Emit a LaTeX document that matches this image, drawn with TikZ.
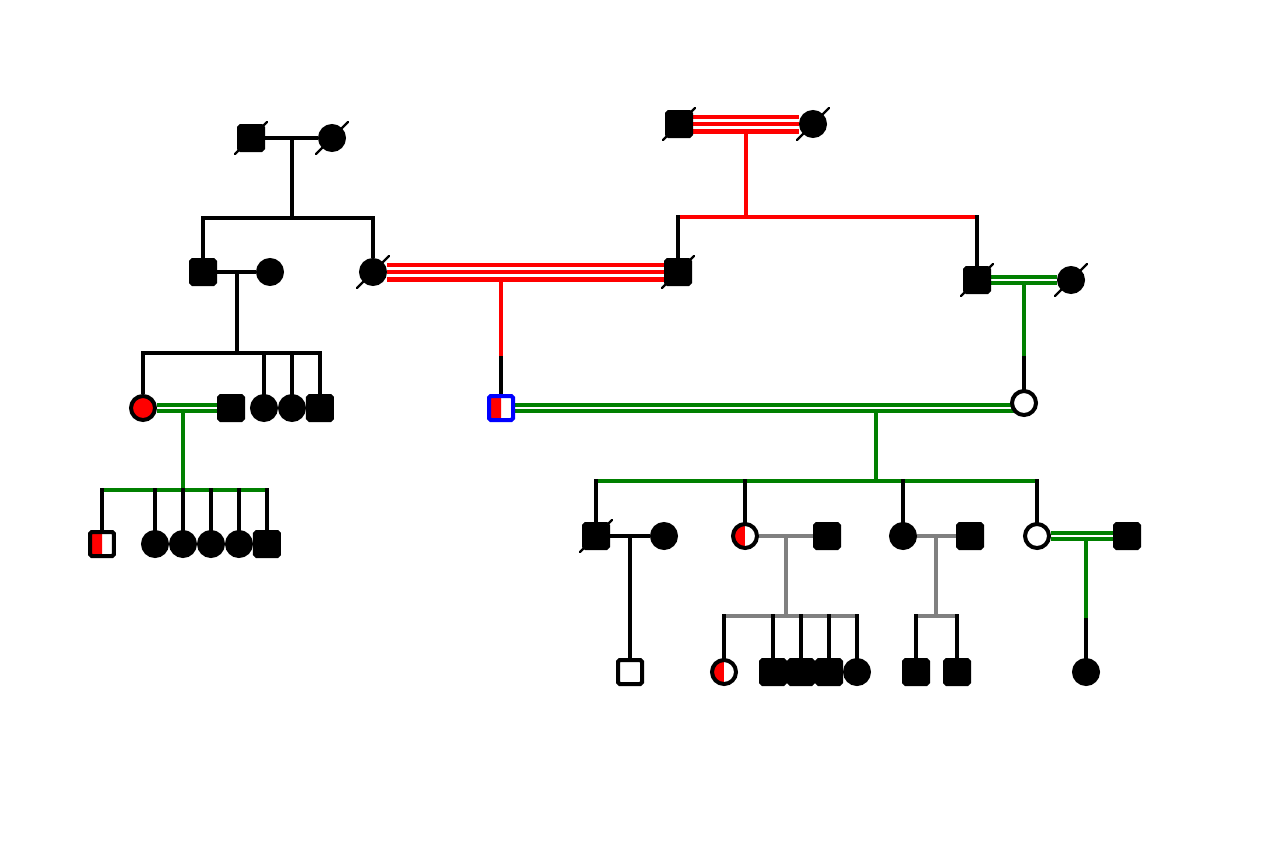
\documentclass[tikz,border=0pt]{standalone}
\usepackage{tikz}
\usetikzlibrary{positioning,backgrounds}
\definecolor{pgreen}{RGB}{0,128,0}
\definecolor{pgray}{RGB}{128,128,128}
\begin{document}
\begin{tikzpicture}[
    x=0.02cm, y=-0.02cm, line width=0.085cm,
    ind/.style={draw, line width=0.08cm, minimum size=0.48cm, inner sep=0pt},
    ma/.style={ind, rectangle, rounded corners=1pt},
    fe/.style={ind, circle},
    aff/.style={fill=black},
    half/.style={fill=white, path picture={\fill[red] (path picture bounding box.south west) rectangle (path picture bounding box.north);}},
    dead/.style={line width=0.045cm, line cap=round},
    dr/.style={line cap=rect},
    dbl/.style={draw=pgreen, double=white, line width=0.07cm, double distance=0.045cm},
    tri/.style={draw=red, double=white, line width=0.085cm, double distance=0.21cm},
    trm/.style={draw=red, line width=0.085cm},
    rl/.style={draw=red}, gl/.style={draw=pgreen}, gr/.style={draw=pgray},
]
    \useasboundingbox (0,0) rectangle (1280,853);
    \node[ma, aff] (I1) at (251,138) {};
    \node[fe, aff] (I2) at (332,138) {};
    \node[ma, aff] (I3) at (679,124) {};
    \node[fe, aff] (I4) at (813,124) {};
    \node[ma, aff] (II1) at (203,272) {};
    \node[fe, aff] (II2) at (270,272) {};
    \node[fe, aff] (II3) at (373,272) {};
    \node[ma, aff] (II4) at (678,272) {};
    \node[ma, aff] (II5) at (977,280) {};
    \node[fe, aff] (II6) at (1071,280) {};
    \node[fe, fill=red] (III1) at (143,408) {};
    \node[ma, aff] (III2) at (231,408) {};
    \node[fe, aff] (III3) at (264,408) {};
    \node[fe, aff, right=0pt of III3] (III4) {};
    \node[ma, aff, right=0pt of III4] (III5) {};
    \node[ma, half, draw=blue] (III6) at (501,408) {};
    \node[fe, fill=white] (III7) at (1024,403) {};
    \node[ma, half] (IV1) at (102,544) {};
    \node[fe, aff] (IV2) at (155,544) {};
    \node[fe, aff, right=0pt of IV2] (IV3) {};
    \node[fe, aff, right=0pt of IV3] (IV4) {};
    \node[fe, aff, right=0pt of IV4] (IV5) {};
    \node[ma, aff, right=0pt of IV5] (IV6) {};
    \node[ma, aff] (IV7) at (596,536) {};
    \node[fe, aff] (IV8) at (664,536) {};
    \node[fe, half] (IV9) at (745,536) {};
    \node[ma, aff] (IV10) at (827,536) {};
    \node[fe, aff] (IV11) at (903,536) {};
    \node[ma, aff] (IV12) at (970,536) {};
    \node[fe, fill=white] (IV13) at (1037,536) {};
    \node[ma, aff] (IV14) at (1127,536) {};
    \node[ma, fill=white] (V1) at (630,672) {};
    \node[fe, half] (V2) at (724,672) {};
    \node[ma, aff] (V3) at (773,672) {};
    \node[ma, aff, right=0pt of V3] (V4) {};
    \node[ma, aff, right=0pt of V4] (V5) {};
    \node[fe, aff, right=0pt of V5] (V6) {};
    \node[ma, aff] (V7) at (916,672) {};
    \node[ma, aff] (V8) at (957,672) {};
    \node[fe, aff] (V9) at (1086,672) {};
    \foreach \n in {I1,I2,I3,I4,II3,II4,II5,II6,IV7}
        \draw[dead] ([shift={(-16,16)}]\n.center) -- ([shift={(16,-16)}]\n.center);

    \begin{scope}[on background layer]
    \begin{scope}[line width=0.085cm]
    \coordinate (m1) at (292,138); \coordinate (s1) at (292,218);
    \coordinate (m2) at (746,134); \coordinate (s2) at (746,217);
    \coordinate (m3) at (237,272); \coordinate (s3) at (237,353);
    \coordinate (m4) at (501,282); \coordinate (k4) at (501,358);
    \coordinate (m5) at (1024,284); \coordinate (k5) at (1024,358);
    \coordinate (m6) at (183,412); \coordinate (s6) at (183,490);
    \coordinate (m7) at (876,412); \coordinate (s7) at (876,481);
    \coordinate (m8) at (630,536);
    \coordinate (m9) at (786,536); \coordinate (s9) at (786,616);
    \coordinate (m10) at (936,536); \coordinate (s10) at (936,616);
    \coordinate (m11) at (1086,540); \coordinate (k11) at (1086,620);

    \draw (I1) -- (I2); \draw (m1) -- (s1);
    \draw (II1) |- (s1) -| (II3);
    \draw[tri] (I3) -- (I4); \draw[trm] (I3) -- (I4);
    \draw[rl] (m2) -- (s2); \draw[rl] (II4 |- s2) -- (II5 |- s2);
    \draw[dr] (II4 |- s2) -- (II4); \draw[dr] (II5 |- s2) -- (II5);

    \draw (II1) -- (II2); \draw (m3) -- (s3);
    \draw (III1) |- (s3) -| (III5);
    \foreach \n in {III3,III4} \draw[dr] (\n |- s3) -- (\n);
    \draw[tri] (II3) -- (II4); \draw[trm] (II3) -- (II4);
    \draw[rl] (m4) -- (k4); \draw[dr] (k4) -- (III6);
    \draw[dbl] (II5) -- (II6);
    \draw[gl] (m5) -- (k5); \draw[dr] (k5) -- (III7);

    \draw[dbl] (III1) -- (III2);
    \draw[gl] (m6) -- (s6); \draw[gl] (IV1 |- s6) -- (IV6 |- s6);
    \foreach \i in {1,...,6} \draw[dr] (IV\i |- s6) -- (IV\i);
    \draw[dbl] (III6.center) -- (III6.center -| III7.center);
    \draw[gl] (m7) -- (s7); \draw[gl] (IV7 |- s7) -- (IV13 |- s7);
    \foreach \i in {7,9,11,13} \draw[dr] (IV\i |- s7) -- (IV\i);

    \draw (IV7) -- (IV8); \draw (m8) -- (V1);
    \draw[gr] (IV9) -- (IV10); \draw[gr] (m9) -- (s9);
    \draw[gr] (V2 |- s9) -- (V6 |- s9);
    \foreach \i in {2,...,6} \draw[dr] (V\i |- s9) -- (V\i);
    \draw[gr] (IV11) -- (IV12); \draw[gr] (m10) -- (s10);
    \draw[gr] (V7 |- s10) -- (V8 |- s10);
    \foreach \i in {7,8} \draw[dr] (V\i |- s10) -- (V\i);
    \draw[dbl] (IV13) -- (IV14);
    \draw[gl] (m11) -- (k11); \draw[dr] (k11) -- (V9);
    \end{scope}
    \end{scope}
\end{tikzpicture}
\end{document}
